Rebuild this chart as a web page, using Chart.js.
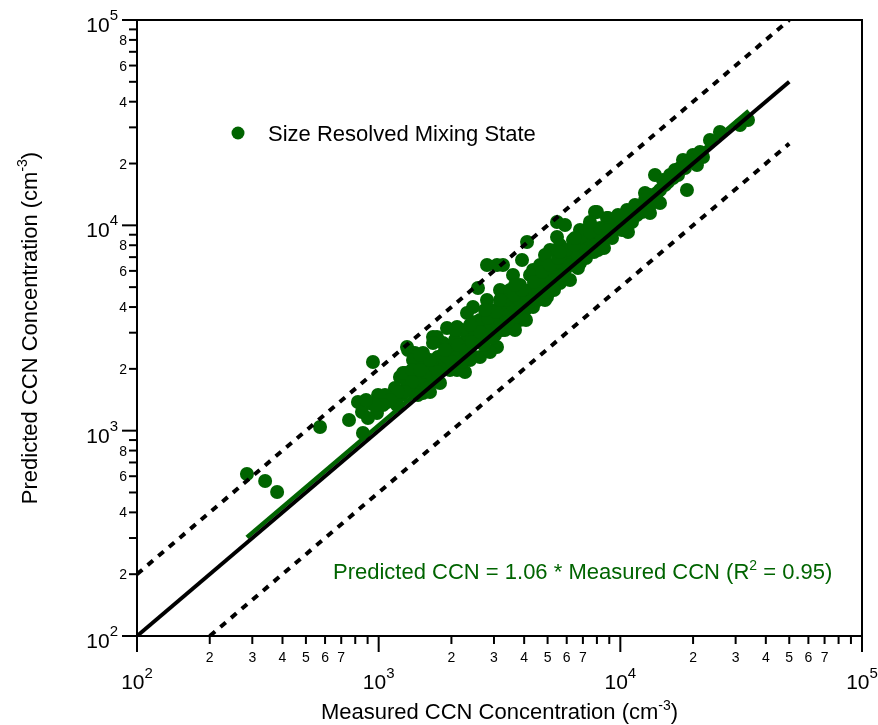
<!DOCTYPE html>
<html>
<head>
<meta charset="utf-8">
<script src="https://cdn.jsdelivr.net/npm/chart.js@4.4.1/dist/chart.umd.min.js"></script>
<style>
  html, body { margin: 0; padding: 0; background: #fff; }
  #wrap { width: 878px; height: 725px; }
</style>
</head>
<body>
<div id="wrap"><canvas id="ccn" width="878" height="725"></canvas></div>
<script>
// Measured vs predicted CCN (cm-3), one entry per sample
const measured = [
  285, 339, 380, 572, 947, 821, 853, 754, 861, 994, 984, 1083, 1191, 1225, 1285, 1310, 1323, 1413, 1440, 1526, 1631, 1585, 1678, 1760, 1794, 1846,
  8006, 8891, 5470, 5902, 4111, 5470, 3919, 3597, 2807, 3088, 3269, 2576, 3177, 3495, 2457, 2807, 2320, 2110, 1918, 1743, 1678, 1310, 1387, 1526,
  1261, 2110, 2626, 3088, 3845, 4352, 4972, 4352, 5116, 6369, 7278, 8238, 9325, 6808, 5628, 4651, 4111, 3495, 2972, 2702, 2320, 1973, 1794,
  33746, 25838, 19977, 18164, 17655, 20755, 21978, 13911, 15015, 18867, 12647, 14592, 13265, 11720, 10654, 10757, 7855, 8807, 9063, 8238, 7278, 8084, 14180, 16515,
  1168, 1249, 1348, 1413, 1483, 1555, 1454, 1600, 1663, 1727, 1882, 1973, 2070, 2011, 2171, 2276, 2388, 2342, 2504, 2576, 2754, 2888, 3030, 3177, 3332,
  3332, 3563, 3666, 3845, 4033, 4229, 4436, 4651, 4878, 5020, 5215, 5366, 5628, 5902, 6073, 6308, 6491, 6679, 6939, 7209, 7488, 7781, 8084, 8477, 8723,
  9063, 9504, 9968, 10454, 10965, 11500, 12059, 12647, 13265, 15304, 16050, 16833, 19414, 21360, 23487, 31274,
  1631, 2276, 2888, 3666, 4878, 6190, 2388,
  1829, 2070, 2212, 2626, 2888, 3177, 3495, 3845, 4229, 4651, 4878, 5628, 6808, 7488, 1555, 1374, 1168, 1062, 938, 903,
  1760, 1900, 2011, 2130, 2212, 2298, 2434, 2527, 2626, 2728, 2835, 2944, 3059, 3238, 3364, 3429, 3631, 3772, 3919, 4070,
  4229, 4393, 4562, 4741, 4925, 5116, 5315, 5521, 5736, 5959, 6190, 6429, 6679, 6939, 7209, 7488, 7781, 8238, 8559, 8891,
  9237, 9779, 10160, 11176, 12292, 13265, 14592, 15748, 17320, 18518, 1483, 1374, 1285, 1202, 1114, 1042, 966, 887,
  2070, 2388, 2754, 3177, 3666, 5628, 6491, 7488, 1631, 1882, 1483
];
const predicted = [
  615, 569, 503, 1042, 2160, 1379, 1233, 1127, 974, 1492, 1220, 1379, 1334, 1825, 1909, 1707, 2471, 2389, 2160, 1526, 1707, 2042, 2858, 2284, 1707, 2673,
  11614, 10859, 10382, 10039, 8297, 8773, 6779, 5731, 6410, 6410, 6410, 4953, 4842, 4734, 4003, 4329, 3742, 3198, 3162, 2858, 2673, 2556, 2209, 2389,
  1909, 1975, 2284, 2556, 3459, 4003, 4477, 6061, 7585, 8483, 9178, 7844, 10266, 6554, 5238, 5418, 4329, 3870, 3577, 3198, 2764, 2556, 2284,
  32584, 28490, 22005, 20810, 19024, 19676, 21516, 17591, 16628, 14863, 14372, 12849, 11484, 11229, 11876, 9281, 11614, 10859, 9815, 8773, 7844, 7585, 14372, 17005,
  1410, 1492, 1578, 1669, 1765, 1931, 1492, 1614, 1867, 2020, 2089, 1975, 2259, 2614, 2416, 2614, 2416, 2924, 3093, 2764, 2924, 3270, 2924, 3459, 3659,
  3093, 4093, 3537, 4329, 3870, 4842, 4579, 5122, 5540, 4953, 6061, 5418, 6410, 6061, 6934, 6629, 7585, 7172, 8025, 7585, 8483, 8025, 9281, 8483, 9705,
  8974, 10039, 10617, 10039, 11229, 12562, 12145, 13287, 14052, 15721, 17591, 18600, 20810, 22760, 26045, 30812,
  1543, 1931, 2416, 3093, 4329, 5418, 2209,
  1975, 2764, 3093, 3459, 3870, 4093, 4842, 5122, 5731, 6410, 7172, 8025, 9490, 10039, 2209, 1975, 1614, 1492, 1349, 1153,
  1931, 2310, 2160, 2614, 2160, 2471, 2703, 3382, 3023, 2614, 3537, 2827, 3784, 3093, 4329, 3382, 4579, 3784, 4842, 3459,
  4232, 5297, 4329, 5927, 4734, 6410, 4842, 6934, 5731, 7585, 6410, 8025, 6197, 8875, 6934, 9281, 7418, 9705, 7755, 9490,
  8679, 11229, 9490, 10382, 11614, 12562, 14863, 16256, 17591, 19024, 1975, 1726, 1543, 1543, 1410, 1334, 1334, 1410,
  3093, 3270, 3870, 4329, 5122, 7418, 8679, 10382, 2209, 2471, 2336
];

// Reference lines: 1:1 and factor-of-two bounds, plus the regression fit
const oneToOne = [100, 50000];
const upperBound = [100, 50000];   // y = 2x
const lowerBound = [200, 50000];   // y = x / 2
const fitSlope = 1.06;
const fitRSquared = 0.95;
const fitRange = [285, 34000];

// Axis ticks
const axisMin = 100;
const axisMax = 100000;
const decades = [100, 1000, 10000, 100000];
const decadeExponents = ["2", "3", "4", "5"];
const minorSteps = [2, 3, 4, 5, 6, 7, 8, 9];
const xMinorLabels = [2, 3, 4, 5, 6, 7];
const yMinorLabels = [2, 4, 6, 8];

const seriesLabel = "Size Resolved Mixing State";
const xTitle = "Measured CCN Concentration (cm";
const yTitle = "Predicted CCN Concentration (cm";
const unitExp = "-3";

const GREEN = "#006400";
const FONT = '"Liberation Sans", Arial, Helvetica, sans-serif';
const font = (px) => px + "px " + FONT;

const points = measured.map((m, i) => ({ x: m, y: predicted[i] }));

// draws [{t, size, rise}] runs side by side, returns total width
function drawRuns(ctx, runs, x, y, align) {
  const widths = runs.map((r) => { ctx.font = font(r.size); return ctx.measureText(r.t).width; });
  const total = widths.reduce((a, b) => a + b, 0);
  let cx = align === "center" ? x - total / 2 : align === "right" ? x - total : x;
  ctx.textAlign = "left";
  ctx.textBaseline = "alphabetic";
  runs.forEach((r, i) => {
    ctx.font = font(r.size);
    ctx.fillText(r.t, cx, y - (r.rise || 0));
    cx += widths[i];
  });
  return total;
}

function line(ctx, x1, y1, x2, y2) {
  ctx.beginPath();
  ctx.moveTo(x1, y1);
  ctx.lineTo(x2, y2);
  ctx.stroke();
}

const axesPlugin = {
  id: "logAxes",
  afterDraw(chart) {
    const { ctx, chartArea: a } = chart;
    const xs = chart.scales.x, ys = chart.scales.y;
    ctx.save();
    ctx.strokeStyle = "#000";
    ctx.fillStyle = "#000";
    ctx.lineWidth = 2;
    ctx.lineCap = "butt";
    ctx.strokeRect(a.left, a.top, a.right - a.left, a.bottom - a.top);

    decades.forEach((dec, d) => {
      const px = xs.getPixelForValue(dec);
      const py = ys.getPixelForValue(dec);
      line(ctx, px, a.bottom, px, a.bottom + 16);
      line(ctx, a.left - 15, py, a.left, py);

      // decade labels with superscript exponent
      const exp = decadeExponents[d];
      drawRuns(ctx, [{ t: "10", size: 21 }, { t: exp, size: 15, rise: 11 }], px, a.bottom + 53, "center");
      drawRuns(ctx, [{ t: "10", size: 21 }, { t: exp, size: 15, rise: 12 }], a.left - 19, py + 12, "right");

      if (d === decades.length - 1) return;
      minorSteps.forEach((m) => {
        const v = dec * m;
        const mx = xs.getPixelForValue(v);
        const my = ys.getPixelForValue(v);
        line(ctx, mx, a.bottom, mx, a.bottom + 8);
        line(ctx, a.left - 8, my, a.left, my);
        ctx.font = font(14);
        ctx.textBaseline = "alphabetic";
        if (xMinorLabels.includes(m)) {
          ctx.textAlign = "center";
          ctx.fillText(String(m), mx, a.bottom + 26);
        }
        if (yMinorLabels.includes(m)) {
          ctx.textAlign = "right";
          ctx.fillText(String(m), a.left - 10, my + 5);
        }
      });
    });

    // axis titles
    const cx = (a.left + a.right) / 2;
    const cy = (a.top + a.bottom) / 2;
    drawRuns(ctx, [{ t: xTitle, size: 22 }, { t: unitExp, size: 14, rise: 9 }, { t: ")", size: 22 }], cx, 719, "center");
    ctx.save();
    ctx.translate(37, cy);
    ctx.rotate(-Math.PI / 2);
    drawRuns(ctx, [{ t: yTitle, size: 22 }, { t: unitExp, size: 14, rise: 10 }, { t: ")", size: 22 }], 0, 0, "center");
    ctx.restore();

    // legend
    ctx.fillStyle = GREEN;
    ctx.beginPath();
    ctx.arc(238, 133, 6.5, 0, Math.PI * 2);
    ctx.fill();
    ctx.fillStyle = "#000";
    ctx.font = font(22);
    ctx.textAlign = "left";
    ctx.fillText(seriesLabel, 268, 141);

    // fit annotation
    ctx.fillStyle = GREEN;
    drawRuns(ctx, [
      { t: "Predicted CCN = " + fitSlope.toFixed(2) + " * Measured CCN (R", size: 22 },
      { t: "2", size: 14, rise: 9 },
      { t: " = " + fitRSquared.toFixed(2) + ")", size: 22 }
    ], 333, 579, "left");
    ctx.restore();
  }
};

const lineSet = (data, color, width, dash, order) => ({
  data, showLine: true, borderColor: color, borderWidth: width, borderDash: dash,
  pointRadius: 0, pointHoverRadius: 0, fill: false, order
});

new Chart(document.getElementById("ccn"), {
  type: "scatter",
  data: {
    datasets: [
      lineSet(oneToOne.map((v) => ({ x: v, y: v })), "#000", 4, [], 0),
      lineSet(upperBound.map((v) => ({ x: v, y: 2 * v })), "#000", 4, [7, 7], 1),
      lineSet(lowerBound.map((v) => ({ x: v, y: v / 2 })), "#000", 4, [7, 7], 1),
      lineSet(fitRange.map((v) => ({ x: v, y: fitSlope * v })), GREEN, 4.5, [], 2),
      {
        label: seriesLabel,
        data: points,
        pointRadius: 7,
        pointHoverRadius: 7,
        pointBackgroundColor: GREEN,
        pointBorderWidth: 0,
        showLine: false,
        order: 3
      }
    ]
  },
  options: {
    responsive: false,
    animation: false,
    events: [],
    layout: { padding: { left: 137, top: 20, right: 16, bottom: 89 } },
    plugins: { legend: { display: false }, tooltip: { enabled: false } },
    scales: {
      x: { type: "logarithmic", min: axisMin, max: axisMax, display: false },
      y: { type: "logarithmic", min: axisMin, max: axisMax, display: false }
    }
  },
  plugins: [axesPlugin]
});
</script>
</body>
</html>
